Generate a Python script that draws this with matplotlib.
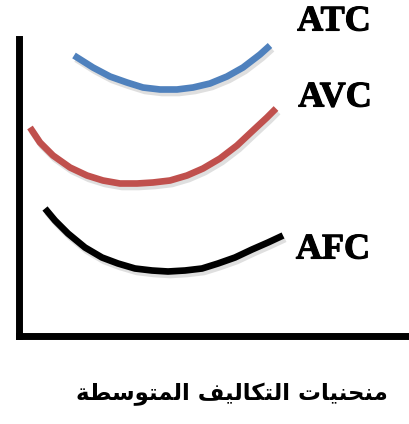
import matplotlib
matplotlib.use('Agg')
import matplotlib.pyplot as plt
import matplotlib.patheffects as pe

# quantity / cost readings for the three average cost curves
q_atc = [55, 74, 91, 108, 124, 141, 158, 174, 191, 208, 224, 241, 251]
atc = [280, 268, 259, 253, 248, 246, 246, 248, 252, 259, 268, 281, 290]

q_avc = [11, 21, 34, 51, 68, 84, 101, 118, 134, 151, 168, 184, 201, 218, 234, 248, 257]
avc = [208, 193, 180, 168, 160, 155, 152, 152, 153, 155, 160, 167, 177, 190, 205, 218, 227]

q_afc = [26, 36, 49, 66, 83, 99, 116, 133, 149, 166, 183, 199, 216, 233, 249, 264]
afc = [127, 115, 102, 88, 78, 72, 67, 65, 64, 65, 67, 72, 78, 86, 93, 100]

labels = ['ATC', 'AVC', 'AFC']
title = 'منحنيات التكاليف المتوسطة'

# arabic letter forms: isolated, final, initial, medial
FORMS = {
    'ا': (0xFE8D, 0xFE8E, None, None),
    'ت': (0xFE95, 0xFE96, 0xFE97, 0xFE98),
    'ح': (0xFEA1, 0xFEA2, 0xFEA3, 0xFEA4),
    'س': (0xFEB1, 0xFEB2, 0xFEB3, 0xFEB4),
    'ط': (0xFEC1, 0xFEC2, 0xFEC3, 0xFEC4),
    'ف': (0xFED1, 0xFED2, 0xFED3, 0xFED4),
    'ك': (0xFED9, 0xFEDA, 0xFEDB, 0xFEDC),
    'ل': (0xFEDD, 0xFEDE, 0xFEDF, 0xFEE0),
    'م': (0xFEE1, 0xFEE2, 0xFEE3, 0xFEE4),
    'ن': (0xFEE5, 0xFEE6, 0xFEE7, 0xFEE8),
    'ي': (0xFEF1, 0xFEF2, 0xFEF3, 0xFEF4),
    'ة': (0xFE93, 0xFE94, None, None),
    'و': (0xFEED, 0xFEEE, None, None),
}


def shape(text):
    # join the letters and flip to visual order, matplotlib has no bidi
    out = []
    for i, ch in enumerate(text):
        if ch not in FORMS:
            out.append(ch)
            continue
        iso, fin, ini, med = FORMS[ch]
        prev = text[i - 1] if i > 0 else ' '
        nxt = text[i + 1] if i + 1 < len(text) else ' '
        a = prev in FORMS and FORMS[prev][2] is not None
        b = ini is not None and nxt in FORMS
        if a and b:
            c = med
        elif a:
            c = fin
        elif b:
            c = ini
        else:
            c = iso
        out.append(chr(c))
    return ''.join(out)[::-1]


fig = plt.figure(figsize=(4.09, 4.24), dpi=100)
ax = fig.add_axes([19 / 409, 88.5 / 424, 390 / 409, 297 / 424])
ax.set_xlim(0, 390)
ax.set_ylim(0, 297)

shadow = [pe.SimpleLineShadow(offset=(1.5, -2.5), shadow_color='gray', alpha=0.25), pe.Normal()]
for q, c, col in [(q_atc, atc, '#4f81bd'), (q_avc, avc, '#c0504d'), (q_afc, afc, 'black')]:
    ax.plot(q, c, color=col, lw=4.8, solid_capstyle='butt', solid_joinstyle='round',
            path_effects=shadow, clip_on=False)

for s in ['top', 'right']:
    ax.spines[s].set_visible(False)
for s in ['left', 'bottom']:
    ax.spines[s].set_linewidth(5)
    ax.spines[s].set_capstyle('projecting')
    ax.spines[s].set_path_effects([pe.SimplePatchShadow(offset=(1, -2.5), alpha=0.2), pe.Normal()])
ax.set_xticks([])
ax.set_yticks([])

for lab, (x, y) in zip(labels, [(315, 313.5), (316, 237.5), (314, 85.5)]):
    ax.text(x, y, lab, ha='center', va='center', fontsize=26, fontweight='bold',
            family='Liberation Serif', clip_on=False,
            path_effects=[pe.withStroke(linewidth=0.8, foreground='black')])

fig.text(232 / 409, 1 - 394 / 424, shape(title), ha='center', va='center',
         fontsize=16.5, fontweight='bold', family=['DejaVu Sans'])

fig.savefig('out.png', dpi=100)
